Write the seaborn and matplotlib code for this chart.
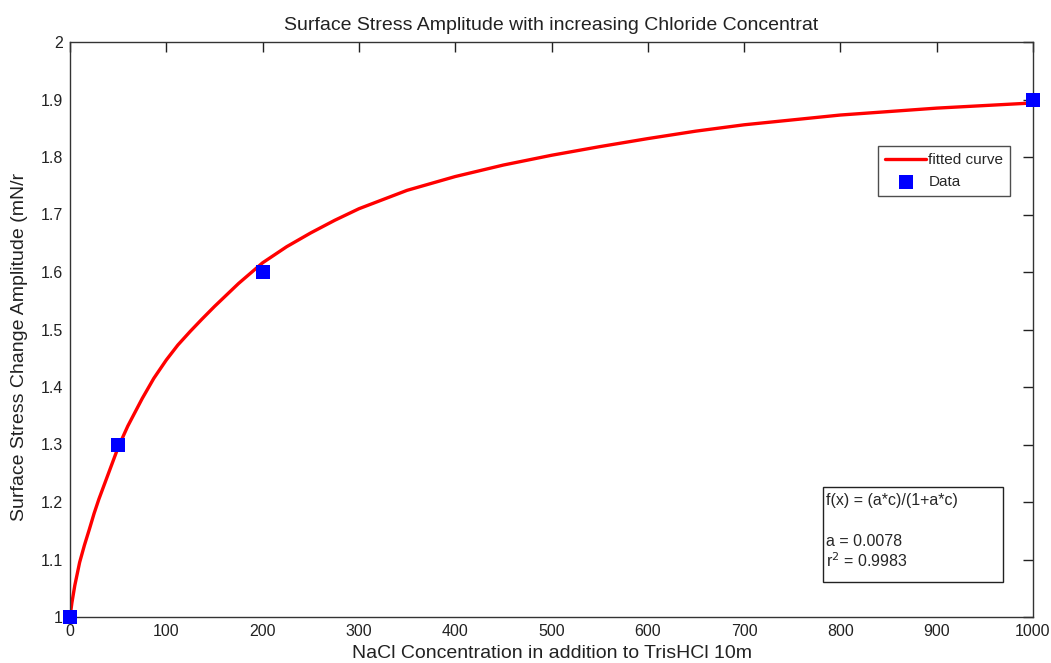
import numpy as np
import pandas as pd
import matplotlib
matplotlib.use("Agg")
import matplotlib.pyplot as plt
import matplotlib.patches as mpatches
import seaborn as sns

# measured points
conc = [0, 50, 200, 1000]
amplitude = [1.0, 1.3, 1.6, 1.9]

# fitted curve
fit_x = [0, 2, 5, 10, 15, 20, 25, 30, 40, 50, 60, 75, 87, 100, 112, 125, 137, 150,
         175, 200, 225, 250, 275, 300, 350, 400, 450, 500, 550, 600, 650, 700,
         800, 900, 1000]
fit_y = [1.0, 1.025, 1.055, 1.095, 1.125, 1.152, 1.18, 1.205, 1.25, 1.295, 1.332,
         1.38, 1.415, 1.447, 1.473, 1.497, 1.518, 1.54, 1.58, 1.616, 1.644, 1.668,
         1.69, 1.71, 1.742, 1.766, 1.786, 1.803, 1.818, 1.832, 1.845, 1.856,
         1.873, 1.885, 1.894]

df_fit = pd.DataFrame({"x": fit_x, "y": fit_y})
df_data = pd.DataFrame({"x": conc, "y": amplitude})

sns.set_theme(style="white")
plt.rcParams["font.family"] = ["Liberation Sans", "DejaVu Sans"]

fig = plt.figure(figsize=(10.51, 6.63), dpi=100)
ax = fig.add_axes([70 / 1051, 1 - 617 / 663, (1033 - 70) / 1051, (617 - 42) / 663])

sns.lineplot(data=df_fit, x="x", y="y", ax=ax, color="red", linewidth=2.4,
             label="fitted curve")
sns.scatterplot(data=df_data, x="x", y="y", ax=ax, color="blue", marker="s",
                s=90, edgecolor="blue", linewidth=0, label="Data", zorder=5,
                clip_on=False)

ax.set_xlim(0, 1000)
ax.set_ylim(1, 2)
ax.set_xticks(range(0, 1001, 100))
ax.set_yticks(np.round(np.arange(1, 2.01, 0.1), 1))
ax.set_yticklabels(["1", "1.1", "1.2", "1.3", "1.4", "1.5", "1.6", "1.7", "1.8", "1.9", "2"])
ax.tick_params(direction="in", length=7, width=1, top=True, right=True,
               labelsize=11.5, colors="#222222", pad=5)
for sp in ax.spines.values():
    sp.set_color("#333333")
    sp.set_linewidth(1)

ax.set_title("Surface Stress Amplitude with increasing Chloride Concentrat",
             fontsize=14, pad=9, color="#222222")
ax.set_xlabel("NaCl Concentration in addition to TrisHCl 10m", fontsize=14,
              color="#222222", labelpad=4)
ax.set_ylabel("Surface Stress Change Amplitude (mN/r", fontsize=14,
              color="#222222")
ax.yaxis.set_label_coords(-42 / 963, 0.47)

leg = ax.legend(loc="upper left", bbox_to_anchor=(808 / 963, 1 - 104 / 575),
                frameon=True, fancybox=False, fontsize=11, borderpad=0.45,
                handlelength=2.7, handletextpad=0.15, labelspacing=0.55,
                borderaxespad=0)
leg.get_frame().set_edgecolor("#222222")
leg.get_frame().set_linewidth(1)

# fit result box
ax.add_patch(mpatches.Rectangle(((823 - 70) / 963, 1 - (582 - 42) / 575),
                                (1003 - 823) / 963, (582 - 487) / 575,
                                transform=ax.transAxes, facecolor="white",
                                edgecolor="#222222", linewidth=1, zorder=6))
ax.text((826 - 70) / 963, 1 - (501 - 42) / 575, "f(x) = (a*c)/(1+a*c)",
        transform=ax.transAxes, fontsize=11.5, va="center", ha="left", zorder=7)
ax.text((826 - 70) / 963, 1 - (541 - 42) / 575, "a = 0.0078",
        transform=ax.transAxes, fontsize=11.5, va="center", ha="left", zorder=7)
ax.text((826 - 70) / 963, 1 - (561 - 42) / 575, "r$^2$ = 0.9983",
        transform=ax.transAxes, fontsize=11.5, va="center", ha="left", zorder=7)

fig.savefig("out.png", dpi=100)
